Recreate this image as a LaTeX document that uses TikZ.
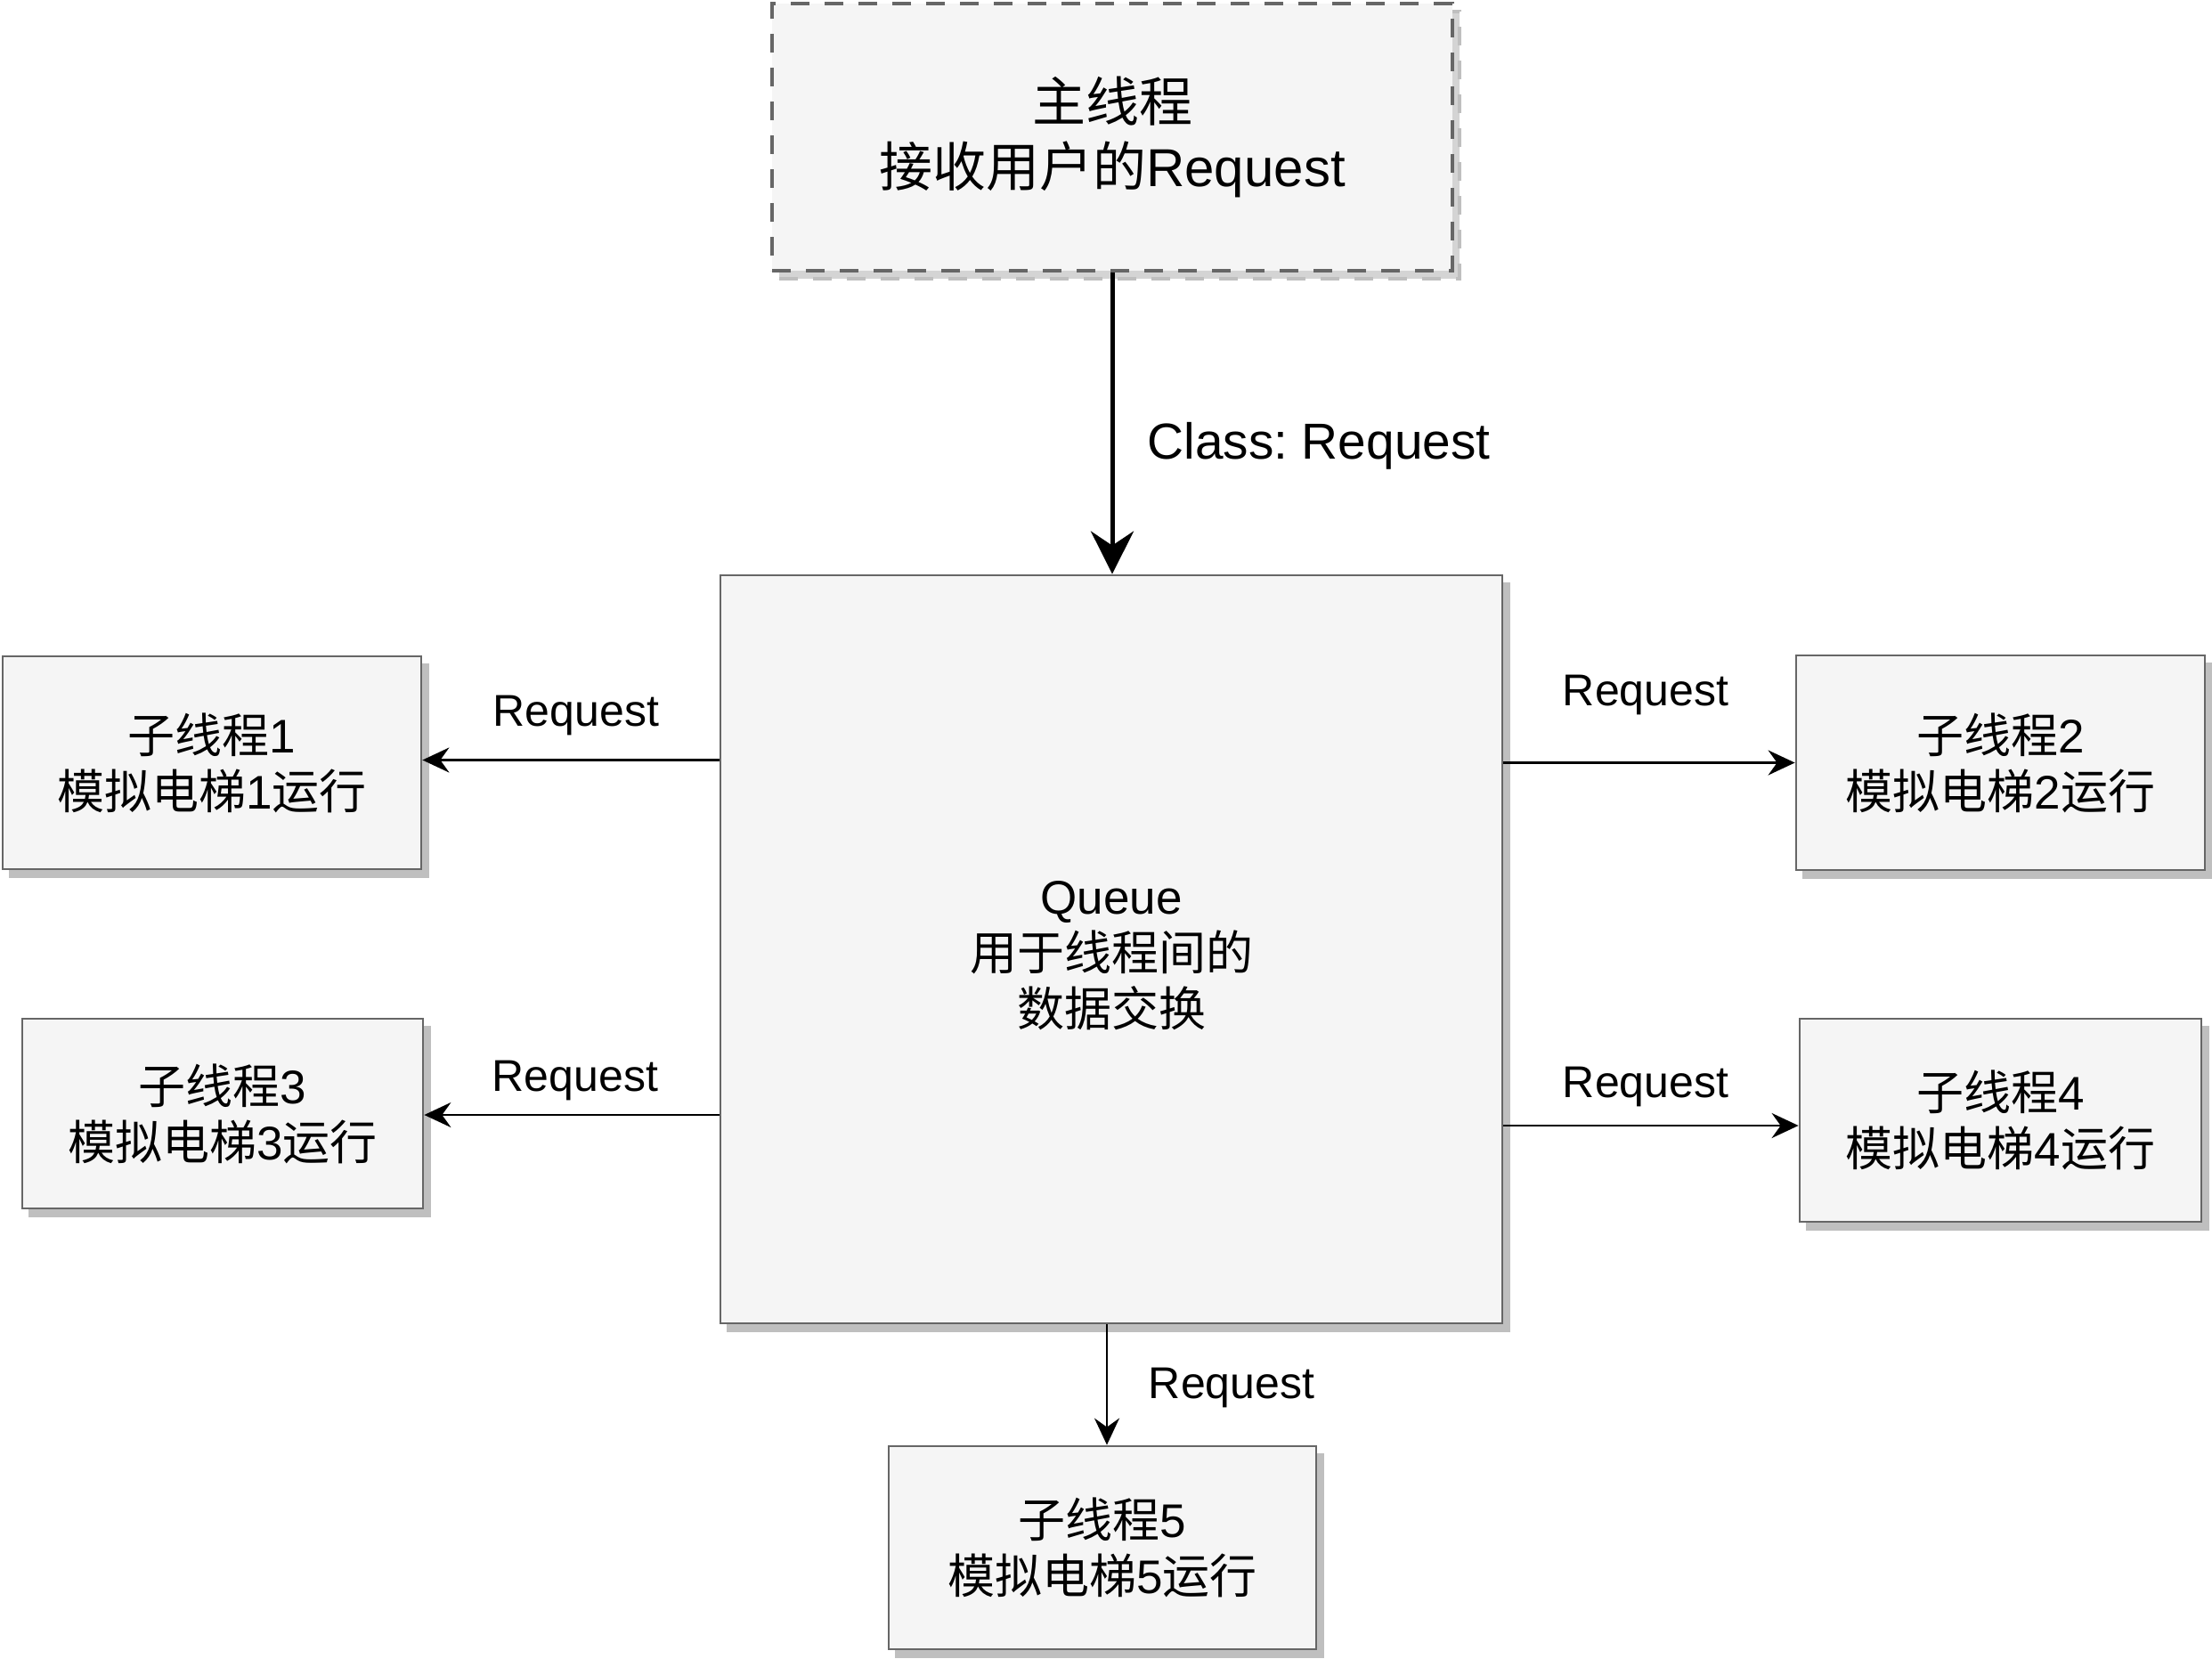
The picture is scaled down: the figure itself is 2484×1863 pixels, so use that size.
\documentclass[tikz,border=0pt]{standalone}
\usepackage{fontspec}
\setmainfont{Liberation Sans}
\newfontfamily\cjk{Noto Sans CJK SC}
\usetikzlibrary{arrows.meta,shadows}
\definecolor{boxfill}{HTML}{F5F5F5}
\definecolor{boxline}{HTML}{666666}
\definecolor{shade}{HTML}{BFBFBF}
\definecolor{shadelight}{HTML}{D4D4D4}
\frenchspacing
\begin{document}
\begin{tikzpicture}[x=0.5pt,y=-0.5pt,
  box/.style={rectangle, draw=boxline, fill=boxfill, line width=1.4pt, align=center, inner sep=0pt,
    font=\fontsize{26.5}{31.5}\selectfont,
    drop shadow={shadow xshift=4pt, shadow yshift=-4.5pt, fill=shade, draw=shade, opacity=1}},
  dashbox/.style={rectangle, draw=boxline, fill=boxfill, line width=2.2pt, dash pattern=on 10.5pt off 8.5pt,
    align=center, inner sep=0pt, font=\fontsize{30}{36.5}\selectfont,
    drop shadow={shadow xshift=4pt, shadow yshift=-4.5pt, fill=shadelight, draw=shade, line width=2.2pt,
      dash pattern=on 10.5pt off 8.5pt, opacity=1}},
  txt/.style={inner sep=0pt, align=center, font=\fontsize{26.5}{31.5}\selectfont},
  lab/.style={inner sep=0pt, font=\fontsize{25}{30}\selectfont},
  biglab/.style={inner sep=0pt, font=\fontsize{28.4}{34}\selectfont},
  thinarrow/.style={draw=black, line width=1.3pt, -{Stealth[length=15pt,width=14pt,inset=5pt]}},
  mainarrow/.style={draw=black, line width=2.5pt, -{Stealth[length=24pt,width=24pt,inset=8pt]}}
]
\useasboundingbox (0,0) rectangle (2484,1863);

\node[dashbox, minimum width=382pt, minimum height=150pt] (main) at (1249,154)
  {{\cjk 主线程}\\{\cjk 接收用户的}Request};
\node[box, minimum width=439pt, minimum height=420pt] (queue) at (1248,1066) {};
\node[txt, yshift=-3.5pt] (qtext) at (queue.center)
  {Queue\\{\cjk 用于线程间的}\\{\cjk 数据交换}};
\node[box, minimum width=235pt, minimum height=119.5pt] (b1) at (238,856.5)
  {{\cjk 子线程}1\\{\cjk 模拟电梯}1{\cjk 运行}};
\node[box, minimum width=229.5pt, minimum height=120.5pt] (b2) at (2246.5,856.5)
  {{\cjk 子线程}2\\{\cjk 模拟电梯}2{\cjk 运行}};
\node[box, minimum width=225pt, minimum height=106.5pt] (b3) at (250,1250.5)
  {{\cjk 子线程}3\\{\cjk 模拟电梯}3{\cjk 运行}};
\node[box, minimum width=225.5pt, minimum height=114pt] (b4) at (2246.5,1258)
  {{\cjk 子线程}4\\{\cjk 模拟电梯}4{\cjk 运行}};
\node[box, minimum width=240pt, minimum height=114pt] (b5) at (1238,1738)
  {{\cjk 子线程}5\\{\cjk 模拟电梯}5{\cjk 运行}};

\draw[mainarrow] (main.south) -- (main.south |- queue.north);
\draw[thinarrow] ([yshift=1.5pt]b1.east -| queue.west) -- ([yshift=1.5pt]b1.east);
\draw[thinarrow] (b2.west -| queue.east) -- (b2.west);
\draw[thinarrow] ([yshift=-0.75pt]b3.east -| queue.west) -- ([yshift=-0.75pt]b3.east);
\draw[thinarrow] ([yshift=-3pt]b4.west -| queue.east) -- ([yshift=-3pt]b4.west);
\draw[thinarrow] ([xshift=2.5pt]b5.north |- queue.south) -- ([xshift=2.5pt]b5.north);

\node[biglab, anchor=base west] (lclass) at (1288,515) {Class: Request};
\node[lab, anchor=base] (l1) at (647,815) {Request};
\node[lab, anchor=base] (l2) at (1848,792) {Request};
\node[lab, anchor=base] (l3) at (646,1225) {Request};
\node[lab, anchor=base] (l4) at (1848,1232) {Request};
\node[lab, anchor=base] (l5) at (1383,1570) {Request};
\end{tikzpicture}
\end{document}
